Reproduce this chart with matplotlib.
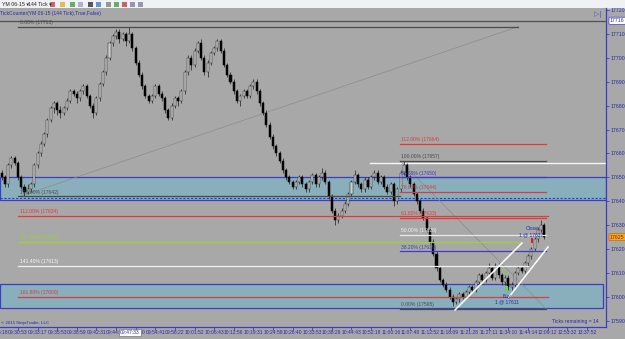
import matplotlib
matplotlib.use('Agg')
import matplotlib.pyplot as plt
from matplotlib.patches import Rectangle
import numpy as np

# ---------------- data ----------------
opens = [17652, 17650, 17647, 17655, 17658, 17656, 17650, 17646, 17644, 17645,
         17647, 17655, 17660, 17664, 17668, 17674, 17679, 17681, 17678, 17677,
         17679, 17682, 17686, 17685, 17683, 17686, 17688, 17684, 17680, 17677,
         17683, 17689, 17694, 17700, 17706, 17709, 17711, 17708, 17710, 17707,
         17710, 17704, 17698, 17693, 17688, 17684, 17682, 17684, 17688, 17685,
         17683, 17678, 17675, 17680, 17683, 17682, 17686, 17694, 17700, 17697,
         17703, 17706, 17700, 17694, 17698, 17702, 17704, 17707, 17703, 17697,
         17693, 17690, 17686, 17682, 17684, 17686, 17684, 17688, 17690, 17686,
         17681, 17677, 17672, 17667, 17663, 17660, 17657, 17653, 17650, 17648,
         17646, 17648, 17650, 17647, 17645, 17648, 17651, 17647, 17650, 17652,
         17648, 17642, 17636, 17632, 17634, 17636, 17639, 17643, 17648, 17651,
         17647, 17645, 17649, 17646, 17650, 17652, 17648, 17650, 17646, 17644,
         17647, 17640, 17645, 17652, 17655, 17650, 17647, 17643, 17640, 17636,
         17633, 17628, 17623, 17618, 17612, 17607, 17605, 17603, 17600, 17598,
         17599, 17601, 17600, 17602, 17604, 17603, 17606, 17609, 17607, 17610,
         17612, 17608, 17613, 17609, 17606, 17608, 17604, 17605, 17610, 17612,
         17611, 17614, 17617, 17620, 17624, 17628, 17630]
closes = [17650, 17647, 17655, 17658, 17656, 17650, 17646, 17644, 17645, 17647,
          17655, 17660, 17664, 17668, 17674, 17679, 17681, 17678, 17677, 17679,
          17682, 17686, 17685, 17683, 17686, 17688, 17684, 17680, 17677, 17683,
          17689, 17694, 17700, 17706, 17709, 17711, 17708, 17710, 17707, 17710,
          17704, 17698, 17693, 17688, 17684, 17682, 17684, 17688, 17685, 17683,
          17678, 17675, 17680, 17683, 17682, 17686, 17694, 17700, 17697, 17703,
          17706, 17700, 17694, 17698, 17702, 17704, 17707, 17703, 17697, 17693,
          17690, 17686, 17682, 17684, 17686, 17684, 17688, 17690, 17686, 17681,
          17677, 17672, 17667, 17663, 17660, 17657, 17653, 17650, 17648, 17646,
          17648, 17650, 17647, 17645, 17648, 17651, 17647, 17650, 17652, 17648,
          17642, 17636, 17632, 17634, 17636, 17639, 17643, 17648, 17651, 17647,
          17645, 17649, 17646, 17650, 17652, 17648, 17650, 17646, 17644, 17647,
          17640, 17645, 17652, 17655, 17650, 17647, 17643, 17640, 17636, 17633,
          17628, 17623, 17618, 17612, 17607, 17605, 17603, 17600, 17598, 17599,
          17601, 17600, 17602, 17604, 17603, 17606, 17609, 17607, 17610, 17612,
          17608, 17613, 17609, 17606, 17608, 17604, 17605, 17610, 17612, 17611,
          17614, 17617, 17620, 17624, 17628, 17630, 17625]
highs = [17653, 17651, 17656, 17659, 17659, 17657, 17651, 17647, 17647, 17648,
         17656, 17661, 17665, 17669, 17675, 17680, 17682, 17682, 17680, 17680,
         17683, 17687, 17687, 17686, 17687, 17689, 17689, 17685, 17681, 17684,
         17690, 17695, 17701, 17707, 17710, 17712, 17712, 17711, 17711, 17713,
         17711, 17705, 17699, 17694, 17689, 17685, 17685, 17689, 17689, 17686,
         17684, 17679, 17681, 17684, 17684, 17687, 17695, 17701, 17701, 17704,
         17707, 17708, 17701, 17699, 17703, 17705, 17708, 17708, 17704, 17698,
         17694, 17691, 17687, 17685, 17687, 17687, 17689, 17691, 17691, 17687,
         17682, 17678, 17673, 17668, 17664, 17661, 17658, 17654, 17651, 17649,
         17649, 17651, 17651, 17648, 17649, 17652, 17652, 17651, 17654, 17653,
         17649, 17643, 17637, 17635, 17637, 17640, 17644, 17649, 17653, 17652,
         17648, 17650, 17650, 17651, 17653, 17653, 17651, 17651, 17647, 17648,
         17648, 17646, 17653, 17657, 17656, 17651, 17648, 17644, 17641, 17637,
         17634, 17629, 17624, 17619, 17613, 17608, 17606, 17604, 17601, 17600,
         17602, 17602, 17603, 17605, 17605, 17607, 17610, 17610, 17611, 17614,
         17613, 17614, 17614, 17610, 17609, 17609, 17606, 17611, 17613, 17613,
         17615, 17618, 17621, 17625, 17629, 17632, 17631]
lows = [17649, 17646, 17646, 17654, 17655, 17649, 17645, 17642, 17643, 17644,
        17646, 17654, 17659, 17663, 17667, 17673, 17677, 17676, 17675, 17676,
        17678, 17681, 17684, 17681, 17682, 17685, 17683, 17679, 17675, 17676,
        17682, 17688, 17693, 17699, 17705, 17708, 17706, 17707, 17705, 17706,
        17703, 17697, 17692, 17687, 17683, 17681, 17681, 17683, 17684, 17682,
        17677, 17674, 17674, 17679, 17680, 17681, 17685, 17693, 17695, 17696,
        17702, 17699, 17693, 17692, 17697, 17701, 17703, 17702, 17696, 17692,
        17689, 17685, 17681, 17680, 17683, 17683, 17683, 17687, 17685, 17680,
        17676, 17671, 17666, 17662, 17659, 17656, 17652, 17649, 17647, 17645,
        17645, 17647, 17646, 17644, 17644, 17647, 17646, 17646, 17649, 17647,
        17641, 17635, 17630, 17631, 17633, 17635, 17638, 17642, 17647, 17646,
        17644, 17644, 17645, 17645, 17649, 17647, 17647, 17645, 17643, 17643,
        17638, 17639, 17644, 17651, 17649, 17646, 17642, 17639, 17635, 17632,
        17627, 17622, 17617, 17611, 17606, 17604, 17602, 17599, 17596, 17597,
        17598, 17599, 17599, 17601, 17602, 17602, 17605, 17606, 17606, 17609,
        17607, 17607, 17608, 17605, 17605, 17603, 17603, 17604, 17609, 17610,
        17610, 17613, 17616, 17619, 17623, 17627, 17624]

time_labels = ["09:25:18", "09:30:53", "09:33:17", "09:35:53", "09:38:59", "09:42:31",
               "09:44:52", "09:50:30", "09:54:41", "09:58:22", "10:01:52", "10:06:43",
               "10:12:56", "10:19:31", "10:24:58", "10:28:40", "10:33:53", "10:38:29",
               "10:44:43", "10:52:18", "11:00:16", "11:07:48", "11:12:52", "11:18:09",
               "11:21:28", "11:27:11", "11:34:10", "11:44:14", "12:09:12", "12:53:32",
               "13:37:52"]
price_ticks = [17720, 17710, 17700, 17690, 17680, 17670, 17660, 17650, 17640,
               17630, 17620, 17610, 17600, 17590]

# Fib extension (left)
fib1_pct = ["0.00%", "100.00%", "112.00%", "127.20%", "141.40%", "161.80%"]
fib1_price = [17713, 17642, 17634, 17623, 17613, 17600]
# Fib retracement (right)
fib2_pct = ["112.00%", "100.00%", "88.60%", "78.60%", "61.80%", "50.00%", "38.20%", "0.00%"]
fib2_price = [17664, 17657, 17650, 17644, 17633, 17626, 17619, 17595]

zone1 = (17640.5, 17650.2)
zone2 = (17595.5, 17605.5)
last_price = 17625
mark_line = 17715.5
mark_label = "17716"
dash_line = 17641.5
white_line = 17656
buy_price, close_price = 17611, 17627

# ---------------- layout helpers ----------------
W, H = 625, 339
BG = '#a8a8a8'
BLUE = '#3c3cc4'
TXTBLUE = '#2a2aa8'
RED = '#e03a3a'
GREEN = '#9cd22c'
DARK = '#4a4a4a'
FONT = ['Liberation Sans', 'DejaVu Sans']

AX_L, AX_R, AX_T, AX_B = 0, 606, 8, 327
BAR0, STEP = 1.6, 3.27
PTOP, PPX, YTOP = 17720, 2.39, 10


def xd(px):
    return (px - BAR0) / STEP


def yd(py):
    return PTOP - (py - YTOP) / PPX


fig = plt.figure(figsize=(W / 100, H / 100), dpi=100, facecolor=BG)
ax = fig.add_axes([AX_L / W, 1 - AX_B / H, (AX_R - AX_L) / W, (AX_B - AX_T) / H])
ax.set_facecolor(BG)
ax.set_xlim(xd(AX_L), xd(AX_R))
ax.set_ylim(yd(AX_B), yd(AX_T))

# zones
ax.add_patch(Rectangle((xd(0), zone1[0]), xd(606) - xd(0), zone1[1] - zone1[0],
                       facecolor='#88afbb', edgecolor=BLUE, lw=0.9, zorder=1))
ax.add_patch(Rectangle((xd(0), zone2[0]), xd(603) - xd(0), zone2[1] - zone2[0],
                       facecolor='#88afbb', edgecolor=BLUE, lw=0.9, zorder=1))
ax.axhline(dash_line, color='#2040d0', lw=0.8, ls=(0, (2, 1.5)), zorder=2)
ax.axhline(mark_line, color='#505050', lw=0.9, zorder=2)
ax.plot([xd(370), xd(606)], [white_line, white_line], color='#f8f8f8', lw=1.0, zorder=2)

# fib trend lines
ax.plot([xd(20), xd(518)], [fib1_price[1], fib1_price[0]], color='#8c8c8c', lw=0.5, zorder=2)
ax.plot([xd(400), xd(546)], [fib2_price[1], fib2_price[-1]], color='#8c8c8c', lw=0.5, zorder=2)

# candles
idx = np.arange(len(closes))
o = np.array(opens, float)
c = np.array(closes, float)
hi = np.array(highs, float)
lo = np.array(lows, float)
up = c >= o
ax.vlines(idx, lo, hi, color='#1a1a1a', lw=0.5, zorder=3)
ax.bar(idx[up], np.maximum(c - o, 0.15)[up], bottom=o[up], width=0.62,
       color='#cfcfcf', edgecolor='#262626', lw=0.35, zorder=4)
ax.bar(idx[~up], (o - c)[~up], bottom=c[~up], width=0.62,
       color='#000000', edgecolor='#000000', lw=0.35, zorder=4)

# fib 1 lines
fib1_col = [DARK, DARK, RED, GREEN, '#f0f0f0', RED]
fib1_txt = [DARK, DARK, RED, GREEN, '#f4f4f4', RED]
fib1_end = [518, 400, 548, 520, 528, 548]
for pct, pr, col, tc, xe in zip(fib1_pct, fib1_price, fib1_col, fib1_txt, fib1_end):
    ax.plot([xd(18), xd(xe)], [pr, pr], color=col, lw=0.9, zorder=5)
    ax.text(xd(20), pr + 0.6, f"{pct} ({pr})", fontsize=3.6, color=tc,
            family=FONT, va='bottom', ha='left', zorder=6)

# fib 2 lines
fib2_col = [RED, DARK, BLUE, RED, RED, '#e8e8e8', BLUE, DARK]
fib2_txt = [RED, DARK, BLUE, RED, RED, '#f0f0f0', BLUE, DARK]
for pct, pr, col, tc in zip(fib2_pct, fib2_price, fib2_col, fib2_txt):
    ax.plot([xd(400), xd(546)], [pr, pr], color=col, lw=0.9, zorder=5)
    ax.text(xd(401), pr + 0.6, f"{pct} ({pr})", fontsize=3.6, color=tc,
            family=FONT, va='bottom', ha='left', zorder=6)

# channel
ax.plot([xd(455), xd(522)], [yd(310), yd(243)], color='white', lw=1.1, zorder=6)
ax.plot([xd(509), xd(548)], [yd(297), yd(247)], color='white', lw=1.1, zorder=6)

# trade markers
ax.add_patch(Rectangle((xd(506), yd(291)), 0.5, 5 / PPX, facecolor='#60e020',
                       edgecolor='none', zorder=7))
ax.add_patch(Rectangle((xd(505.5), yd(273)), 0.4, 2 / PPX, facecolor='#60e020',
                       edgecolor='none', zorder=7))
ax.add_patch(Rectangle((xd(531), yd(243)), 0.5, 5 / PPX, facecolor='#e02020',
                       edgecolor='none', zorder=7))
ax.text(xd(507), yd(296), "Buy", fontsize=3.6, color=TXTBLUE, family=FONT,
        ha='center', va='center', zorder=7)
ax.text(xd(507), yd(301.5), f"1 @ {buy_price}", fontsize=3.6, color=TXTBLUE, family=FONT,
        ha='center', va='center', zorder=7)
ax.text(xd(532), yd(229), "Close", fontsize=3.6, color=TXTBLUE, family=FONT,
        ha='center', va='center', zorder=7)
ax.text(xd(531), yd(234.5), f"1 @ {close_price}", fontsize=3.6, color=TXTBLUE, family=FONT,
        ha='center', va='center', zorder=7)

# axes styling
for s in ['left', 'top']:
    ax.spines[s].set_visible(False)
for s in ['right', 'bottom']:
    ax.spines[s].set_color(BLUE)
    ax.spines[s].set_linewidth(0.9)
ax.yaxis.tick_right()
ax.set_yticks(price_ticks)
ax.set_yticklabels([str(v) for v in price_ticks])
ax.tick_params(axis='y', direction='out', length=2.5, width=0.6, colors=BLUE,
               labelsize=3.8, pad=1, labelcolor=TXTBLUE)
for t in ax.get_yticklabels():
    t.set_family(FONT)

tick_pos = [6 * k - 1 for k in range(len(time_labels))]
ax.set_xticks([p for p in tick_pos if p >= xd(AX_L)])
ax.set_xticklabels([])
ax.tick_params(axis='x', direction='out', length=2.5, width=0.6, colors=BLUE)
for p, lab in zip(tick_pos, time_labels):
    ax.annotate(lab, (p, 0), xycoords=('data', 'axes fraction'), xytext=(0, -3),
                textcoords='offset pixels', ha='center', va='top', fontsize=3.6,
                color=TXTBLUE, family=FONT, annotation_clip=False)

# highlighted labels
ax.annotate("09:47:33", (xd(130), 0), xycoords=('data', 'axes fraction'), xytext=(0, -3),
            textcoords='offset pixels', ha='center', va='top', fontsize=3.6,
            color=TXTBLUE, family=FONT, annotation_clip=False, zorder=10,
            bbox=dict(boxstyle='square,pad=0.15', fc='white', ec='#606060', lw=0.4))
ax.annotate(mark_label, (1, mark_line), xycoords=('axes fraction', 'data'), xytext=(4, 0),
            textcoords='offset pixels', ha='left', va='center', fontsize=3.8,
            color=TXTBLUE, family=FONT, annotation_clip=False, zorder=10,
            bbox=dict(boxstyle='round,pad=0.2', fc='white', ec='#3c3cc4', lw=0.5))
ax.annotate(str(last_price), (1, last_price), xycoords=('axes fraction', 'data'), xytext=(4, 0),
            textcoords='offset pixels', ha='left', va='center', fontsize=3.8,
            color='#803000', family=FONT, annotation_clip=False, zorder=10,
            bbox=dict(boxstyle='round,pad=0.2', fc='#f5a623', ec='#c07010', lw=0.5))

# texts in figure
fig.add_artist(Rectangle((0, 1 - 8 / H), 1, 8 / H, transform=fig.transFigure,
                         facecolor='#f0f1f4', edgecolor='none', zorder=0))
fig.add_artist(Rectangle((0, 1 - 8.6 / H), 1, 0.6 / H, transform=fig.transFigure,
                         facecolor='#c8d0dc', edgecolor='none', zorder=0))
fig.text(2 / W, 1 - 4 / H, "YM 06-15 ▾", fontsize=3.8, family=FONT, color='#202020', va='center')
fig.text(28 / W, 1 - 4 / H, "144 Tick ▾", fontsize=3.8, family=FONT, color='#202020', va='center')
for xx, cc in [(50, '#d04040'), (60, '#e0b020'), (70, '#40a040'), (78, '#a0a0c0'),
               (88, '#303030'), (96, '#4080c0'), (106, '#808080'), (114, '#40a040'),
               (122, '#c04040'), (130, '#8080a0'), (138, '#8080a0')]:
    fig.add_artist(Rectangle((xx / W, 1 - 6.5 / H), 5 / W, 5 / H, transform=fig.transFigure,
                             facecolor=cc, edgecolor='none', alpha=0.8))
fig.text(0.5 / W, 1 - 13.5 / H, "TickCounter(YM 06-15 (144 Tick),True,False)", fontsize=3.6,
         family=FONT, color=TXTBLUE, va='center')
fig.text(598 / W, 1 - 15 / H, "▷|", fontsize=5, family=FONT, color='#5050d0',
         va='center', ha='center')
fig.text(1 / W, 1 - 323 / H, "© 2015 NinjaTrader, LLC", fontsize=3.2, family=FONT,
         color=TXTBLUE, va='center')
fig.text(599 / W, 1 - 322 / H, "Ticks remaining = 14", fontsize=3.6, family=FONT,
         color=TXTBLUE, va='center', ha='right')

fig.savefig('out.png', dpi=100, facecolor=BG)
